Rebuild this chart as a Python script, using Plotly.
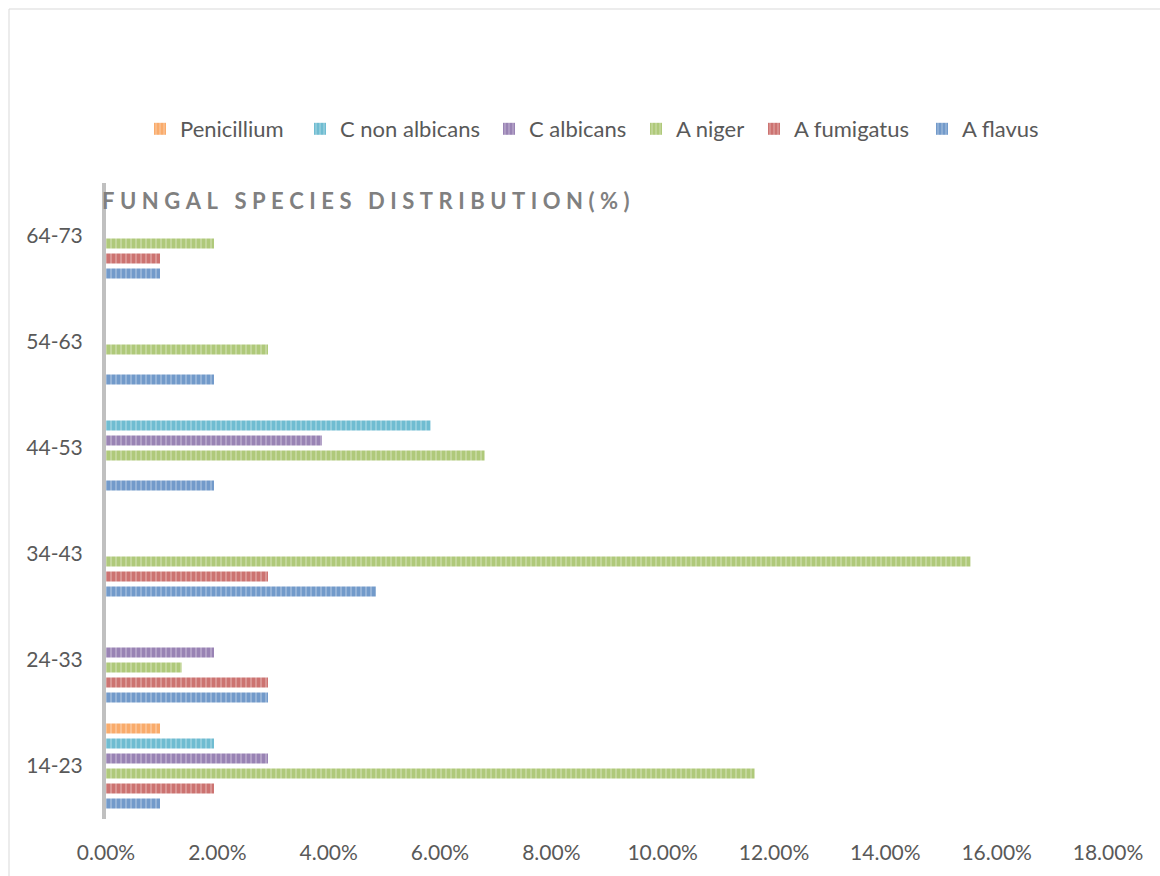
import plotly.graph_objects as go

age_groups = ["14-23", "24-33", "34-43", "44-53", "54-63", "64-73"]
series_names = ["A flavus", "A fumigatus", "A niger", "C albicans", "C non albicans", "Penicillium"]
a_flavus = [0.97, 2.91, 4.85, 1.94, 1.94, 0.97]
a_fumigatus = [1.94, 2.91, 2.91, 0, 0, 0.97]
a_niger = [11.65, 1.36, 15.53, 6.80, 2.91, 1.94]
c_albicans = [2.91, 1.94, 0, 3.88, 0, 0]
c_non_albicans = [1.94, 0, 0, 5.83, 0, 0]
penicillium = [0.97, 0, 0, 0, 0, 0]
x_ticks = [0, 2, 4, 6, 8, 10, 12, 14, 16, 18]

series_values = [a_flavus, a_fumigatus, a_niger, c_albicans, c_non_albicans, penicillium]
main_colors = ["#4F81BD", "#C0504D", "#9BBB59", "#8064A2", "#4BACC6", "#F79646"]
light_colors = ["#95B3D7", "#D99694", "#C3D69B", "#B3A2C7", "#93CDDD", "#FAC090"]
# legend text start positions (px) for each series, as in the reference
legend_text_px = [962, 794, 676, 529, 340, 180]

FONT = "Lato"
L, R, T, B = 106, 1108, 183, 819
PW, PH = R - L, B - T

fig = go.Figure()
legend_layouts = {}
for i, (name, vals, mc, lc) in enumerate(zip(series_names, series_values, main_colors, light_colors)):
    lg = "legend" if i == 0 else f"legend{i + 1}"
    fig.add_trace(go.Bar(
        y=age_groups, x=[v / 100 for v in vals], name=name, orientation="h",
        legend=lg,
        marker=dict(color=lc, line=dict(width=0),
                    pattern=dict(shape="|", fgcolor=mc, bgcolor=lc, size=5, solidity=0.6, fillmode="overlay")),
    ))
    legend_layouts[lg] = dict(
        orientation="h", x=(legend_text_px[i] - 40 - L) / PW, xanchor="left",
        y=1.0 + (T - 129) / PH, yanchor="middle", bgcolor="rgba(0,0,0,0)", borderwidth=0,
        font=dict(family=FONT, size=22, color="#595959"), itemwidth=30)

fig.update_layout(
    width=1160, height=876,
    margin=dict(l=L, r=1160 - R, t=T, b=876 - B),
    paper_bgcolor="white", plot_bgcolor="white",
    barmode="group", bargap=0.15, bargroupgap=0.33,
    font=dict(family=FONT, size=21, color="#595959"),
    showlegend=True,
    xaxis=dict(range=[0, 0.18], tickvals=[t / 100 for t in x_ticks], tickformat=".2%",
               showgrid=False, zeroline=False, showline=False, ticks="",
               ticklabelstandoff=19, tickfont=dict(family=FONT, size=21, color="#595959"),
               fixedrange=True),
    yaxis=dict(type="category", categoryorder="array", categoryarray=age_groups,
               showgrid=False, zeroline=False, showline=True, linecolor="#C0C0C0", linewidth=4,
               ticks="", ticklabelstandoff=15,
               tickfont=dict(family=FONT, size=21, color="#595959")),
    annotations=[dict(
        text="\u2003".join("\u2005".join(w) for w in ["FUNGAL", "SPECIES", "DISTRIBUTION(%)"]),
        xref="paper", yref="paper", x=(100 - L) / PW, y=(B - 200) / PH,
        xanchor="left", yanchor="middle", showarrow=False,
        font=dict(family=FONT, size=22, color="#808080", weight="bold"))],
    shapes=[dict(type="rect", xref="paper", yref="paper",
                 x0=(9 - L) / PW, x1=(1170 - L) / PW,
                 y0=(B - 890) / PH, y1=(B - 9) / PH,
                 line=dict(color="#D9D9D9", width=1), fillcolor="rgba(0,0,0,0)", layer="below")],
    **legend_layouts,
)

fig.write_html("out.html")
